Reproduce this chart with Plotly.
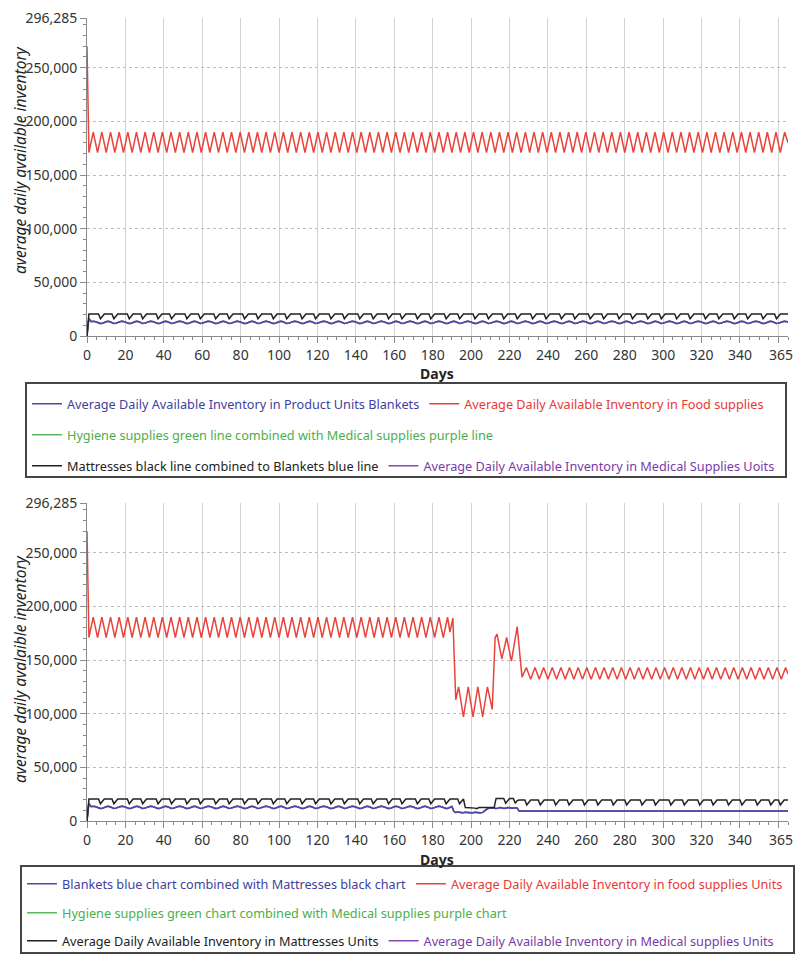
import plotly.graph_objects as go

# ---------------- axis ticks ----------------
Y_MAX = 296285
y_tick_vals = [0, 50000, 100000, 150000, 200000, 250000, 296285]
y_tick_text = ["0", "50,000", "100,000", "150,000", "200,000", "250,000", "296,285"]
x_tick_vals = [0, 20, 40, 60, 80, 100, 120, 140, 160, 180, 200, 220, 240, 260, 280, 300, 320, 340, 360]
x_tick_text = ["0", "20", "40", "60", "80", "100", "120", "140", "160", "180", "200", "220", "240", "260",
               "280", "300", "320", "340", ""]
X_END = 365
x_end_label = "365"

# ---------------- data (thousands of units) ----------------
# Food supplies: zig-zag vertices, half period of 2.25 days
ZIG = 2.25
food_top = [270,
    171, 190, 171, 190, 171, 190, 171, 190, 171, 190,
    171, 190, 171, 190, 171, 190, 171, 190, 171, 190,
    171, 190, 171, 190, 171, 190, 171, 190, 171, 190,
    171, 190, 171, 190, 171, 190, 171, 190, 171, 190,
    171, 190, 171, 190, 171, 190, 171, 190, 171, 190,
    171, 190, 171, 190, 171, 190, 171, 190, 171, 190,
    171, 190, 171, 190, 171, 190, 171, 190, 171, 190,
    171, 190, 171, 190, 171, 190, 171, 190, 171, 190,
    171, 190, 171, 190, 171, 190, 171, 190, 171, 190,
    171, 190, 171, 190, 171, 190, 171, 190, 171, 190,
    171, 190, 171, 190, 171, 190, 171, 190, 171, 190,
    171, 190, 171, 190, 171, 190, 171, 190, 171, 190,
    171, 190, 171, 190, 171, 190, 171, 190, 171, 190,
    171, 190, 171, 190, 171, 190, 171, 190, 171, 190,
    171, 190, 171, 190, 171, 190, 171, 190, 171, 190,
    171, 190, 171, 190, 171, 190, 171, 190, 171, 190,
    171, 190,
    180]
food_top_days = [0] + [1 + ZIG * k for k in range(len(food_top) - 2)] + [365]

food_bot_before = [270,
    171, 190, 171, 190, 171, 190, 171, 190, 171, 190,
    171, 190, 171, 190, 171, 190, 171, 190, 171, 190,
    171, 190, 171, 190, 171, 190, 171, 190, 171, 190,
    171, 190, 171, 190, 171, 190, 171, 190, 171, 190,
    171, 190, 171, 190, 171, 190, 171, 190, 171, 190,
    171, 190, 171, 190, 171, 190, 171, 190, 171, 190,
    171, 190, 171, 190, 171, 190, 171, 190, 171, 190,
    171, 190, 171, 190, 171, 190, 171, 190, 171, 190,
    171, 190, 171, 190]
food_bot_crisis_days = [189, 190.5, 192, 193.5, 196, 198.5, 201, 203.5, 206, 208.5, 211,
                        212.5, 213.5, 216, 218.5, 221, 224, 226.5]
food_bot_crisis = [176, 189, 113, 125, 97, 125, 97, 125, 97, 125, 104,
                   171, 174, 151, 171, 149, 181, 134]
food_bot_after = [
    143, 132, 143, 132, 143, 132, 143, 132, 143, 132,
    143, 132, 143, 132, 143, 132, 143, 132, 143, 132,
    143, 132, 143, 132, 143, 132, 143, 132, 143, 132,
    143, 132, 143, 132, 143, 132, 143, 132, 143, 132,
    143, 132, 143, 132, 143, 132, 143, 132, 143, 132,
    143, 132, 143, 132, 143, 132, 143, 132, 143, 132,
    143, 137]
food_bot_days = ([0] + [1 + ZIG * k for k in range(len(food_bot_before) - 1)]
                 + food_bot_crisis_days
                 + [228.75 + ZIG * j for j in range(len(food_bot_after) - 1)] + [365])
food_bot = food_bot_before + food_bot_crisis + food_bot_after

# Mattresses and blankets: daily values, days 0..365
mattresses_top = [
    0, 20.5, 20.5, 20.5, 20.5, 20.5, 20.5, 16, 18.5, 20.5, 20.5, 20.5, 20.5, 20.5, 16,
    18.5, 20.5, 20.5, 20.5, 20.5, 20.5, 20.5, 16, 18.5, 20.5, 20.5, 20.5, 20.5, 20.5, 16,
    18.5, 20.5, 20.5, 20.5, 20.5, 20.5, 20.5, 16, 18.5, 20.5, 20.5, 20.5, 20.5, 20.5, 16,
    18.5, 20.5, 20.5, 20.5, 20.5, 20.5, 20.5, 16, 18.5, 20.5, 20.5, 20.5, 20.5, 20.5, 16,
    18.5, 20.5, 20.5, 20.5, 20.5, 20.5, 20.5, 16, 18.5, 20.5, 20.5, 20.5, 20.5, 20.5, 16,
    18.5, 20.5, 20.5, 20.5, 20.5, 20.5, 20.5, 16, 18.5, 20.5, 20.5, 20.5, 20.5, 20.5, 16,
    18.5, 20.5, 20.5, 20.5, 20.5, 20.5, 20.5, 16, 18.5, 20.5, 20.5, 20.5, 20.5, 20.5, 16,
    18.5, 20.5, 20.5, 20.5, 20.5, 20.5, 20.5, 16, 18.5, 20.5, 20.5, 20.5, 20.5, 20.5, 16,
    18.5, 20.5, 20.5, 20.5, 20.5, 20.5, 20.5, 16, 18.5, 20.5, 20.5, 20.5, 20.5, 20.5, 16,
    18.5, 20.5, 20.5, 20.5, 20.5, 20.5, 20.5, 16, 18.5, 20.5, 20.5, 20.5, 20.5, 20.5, 16,
    18.5, 20.5, 20.5, 20.5, 20.5, 20.5, 20.5, 16, 18.5, 20.5, 20.5, 20.5, 20.5, 20.5, 16,
    18.5, 20.5, 20.5, 20.5, 20.5, 20.5, 20.5, 16, 18.5, 20.5, 20.5, 20.5, 20.5, 20.5, 16,
    18.5, 20.5, 20.5, 20.5, 20.5, 20.5, 20.5, 16, 18.5, 20.5, 20.5, 20.5, 20.5, 20.5, 16,
    18.5, 20.5, 20.5, 20.5, 20.5, 20.5, 20.5, 16, 18.5, 20.5, 20.5, 20.5, 20.5, 20.5, 16,
    18.5, 20.5, 20.5, 20.5, 20.5, 20.5, 20.5, 16, 18.5, 20.5, 20.5, 20.5, 20.5, 20.5, 16,
    18.5, 20.5, 20.5, 20.5, 20.5, 20.5, 20.5, 16, 18.5, 20.5, 20.5, 20.5, 20.5, 20.5, 16,
    18.5, 20.5, 20.5, 20.5, 20.5, 20.5, 20.5, 16, 18.5, 20.5, 20.5, 20.5, 20.5, 20.5, 16,
    18.5, 20.5, 20.5, 20.5, 20.5, 20.5, 20.5, 16, 18.5, 20.5, 20.5, 20.5, 20.5, 20.5, 16,
    18.5, 20.5, 20.5, 20.5, 20.5, 20.5, 20.5, 16, 18.5, 20.5, 20.5, 20.5, 20.5, 20.5, 16,
    18.5, 20.5, 20.5, 20.5, 20.5, 20.5, 20.5, 16, 18.5, 20.5, 20.5, 20.5, 20.5, 20.5, 16,
    18.5, 20.5, 20.5, 20.5, 20.5, 20.5, 20.5, 16, 18.5, 20.5, 20.5, 20.5, 20.5, 20.5, 16,
    18.5, 20.5, 20.5, 20.5, 20.5, 20.5, 20.5, 16, 18.5, 20.5, 20.5, 20.5, 20.5, 20.5, 16,
    18.5, 20.5, 20.5, 20.5, 20.5, 20.5, 20.5, 16, 18.5, 20.5, 20.5, 20.5, 20.5, 20.5, 16,
    18.5, 20.5, 20.5, 20.5, 20.5, 20.5, 20.5, 16, 18.5, 20.5, 20.5, 20.5, 20.5, 20.5, 16,
    18.5, 20.5, 20.5, 20.5, 20.5, 20.5]

blankets_top = [
    0, 16.5, 13.5, 13.8, 13.6, 13.0, 12.2, 11.6, 11.9, 12.7, 13.5, 13.8, 13.3, 12.5, 11.7,
    12.0, 12.6, 13.3, 13.8, 13.6, 13.0, 12.2, 11.6, 11.9, 12.7, 13.5, 13.8, 13.3, 12.5, 11.7,
    12.0, 12.6, 13.3, 13.8, 13.6, 13.0, 12.2, 11.6, 11.9, 12.7, 13.5, 13.8, 13.3, 12.5, 11.7,
    12.0, 12.6, 13.3, 13.8, 13.6, 13.0, 12.2, 11.6, 11.9, 12.7, 13.5, 13.8, 13.3, 12.5, 11.7,
    12.0, 12.6, 13.3, 13.8, 13.6, 13.0, 12.2, 11.6, 11.9, 12.7, 13.5, 13.8, 13.3, 12.5, 11.7,
    12.0, 12.6, 13.3, 13.8, 13.6, 13.0, 12.2, 11.6, 11.9, 12.7, 13.5, 13.8, 13.3, 12.5, 11.7,
    12.0, 12.6, 13.3, 13.8, 13.6, 13.0, 12.2, 11.6, 11.9, 12.7, 13.5, 13.8, 13.3, 12.5, 11.7,
    12.0, 12.6, 13.3, 13.8, 13.6, 13.0, 12.2, 11.6, 11.9, 12.7, 13.5, 13.8, 13.3, 12.5, 11.7,
    12.0, 12.6, 13.3, 13.8, 13.6, 13.0, 12.2, 11.6, 11.9, 12.7, 13.5, 13.8, 13.3, 12.5, 11.7,
    12.0, 12.6, 13.3, 13.8, 13.6, 13.0, 12.2, 11.6, 11.9, 12.7, 13.5, 13.8, 13.3, 12.5, 11.7,
    12.0, 12.6, 13.3, 13.8, 13.6, 13.0, 12.2, 11.6, 11.9, 12.7, 13.5, 13.8, 13.3, 12.5, 11.7,
    12.0, 12.6, 13.3, 13.8, 13.6, 13.0, 12.2, 11.6, 11.9, 12.7, 13.5, 13.8, 13.3, 12.5, 11.7,
    12.0, 12.6, 13.3, 13.8, 13.6, 13.0, 12.2, 11.6, 11.9, 12.7, 13.5, 13.8, 13.3, 12.5, 11.7,
    12.0, 12.6, 13.3, 13.8, 13.6, 13.0, 12.2, 11.6, 11.9, 12.7, 13.5, 13.8, 13.3, 12.5, 11.7,
    12.0, 12.6, 13.3, 13.8, 13.6, 13.0, 12.2, 11.6, 11.9, 12.7, 13.5, 13.8, 13.3, 12.5, 11.7,
    12.0, 12.6, 13.3, 13.8, 13.6, 13.0, 12.2, 11.6, 11.9, 12.7, 13.5, 13.8, 13.3, 12.5, 11.7,
    12.0, 12.6, 13.3, 13.8, 13.6, 13.0, 12.2, 11.6, 11.9, 12.7, 13.5, 13.8, 13.3, 12.5, 11.7,
    12.0, 12.6, 13.3, 13.8, 13.6, 13.0, 12.2, 11.6, 11.9, 12.7, 13.5, 13.8, 13.3, 12.5, 11.7,
    12.0, 12.6, 13.3, 13.8, 13.6, 13.0, 12.2, 11.6, 11.9, 12.7, 13.5, 13.8, 13.3, 12.5, 11.7,
    12.0, 12.6, 13.3, 13.8, 13.6, 13.0, 12.2, 11.6, 11.9, 12.7, 13.5, 13.8, 13.3, 12.5, 11.7,
    12.0, 12.6, 13.3, 13.8, 13.6, 13.0, 12.2, 11.6, 11.9, 12.7, 13.5, 13.8, 13.3, 12.5, 11.7,
    12.0, 12.6, 13.3, 13.8, 13.6, 13.0, 12.2, 11.6, 11.9, 12.7, 13.5, 13.8, 13.3, 12.5, 11.7,
    12.0, 12.6, 13.3, 13.8, 13.6, 13.0, 12.2, 11.6, 11.9, 12.7, 13.5, 13.8, 13.3, 12.5, 11.7,
    12.0, 12.6, 13.3, 13.8, 13.6, 13.0, 12.2, 11.6, 11.9, 12.7, 13.5, 13.8, 13.3, 12.5, 11.7,
    12.0, 12.6, 13.3, 13.8, 13.6, 13.0]

mattresses_bot = [
    0, 20.5, 20.5, 20.5, 20.5, 20.5, 20.5, 16, 18.5, 20.5, 20.5, 20.5, 20.5, 20.5, 16,
    18.5, 20.5, 20.5, 20.5, 20.5, 20.5, 20.5, 16, 18.5, 20.5, 20.5, 20.5, 20.5, 20.5, 16,
    18.5, 20.5, 20.5, 20.5, 20.5, 20.5, 20.5, 16, 18.5, 20.5, 20.5, 20.5, 20.5, 20.5, 16,
    18.5, 20.5, 20.5, 20.5, 20.5, 20.5, 20.5, 16, 18.5, 20.5, 20.5, 20.5, 20.5, 20.5, 16,
    18.5, 20.5, 20.5, 20.5, 20.5, 20.5, 20.5, 16, 18.5, 20.5, 20.5, 20.5, 20.5, 20.5, 16,
    18.5, 20.5, 20.5, 20.5, 20.5, 20.5, 20.5, 16, 18.5, 20.5, 20.5, 20.5, 20.5, 20.5, 16,
    18.5, 20.5, 20.5, 20.5, 20.5, 20.5, 20.5, 16, 18.5, 20.5, 20.5, 20.5, 20.5, 20.5, 16,
    18.5, 20.5, 20.5, 20.5, 20.5, 20.5, 20.5, 16, 18.5, 20.5, 20.5, 20.5, 20.5, 20.5, 16,
    18.5, 20.5, 20.5, 20.5, 20.5, 20.5, 20.5, 16, 18.5, 20.5, 20.5, 20.5, 20.5, 20.5, 16,
    18.5, 20.5, 20.5, 20.5, 20.5, 20.5, 20.5, 16, 18.5, 20.5, 20.5, 20.5, 20.5, 20.5, 16,
    18.5, 20.5, 20.5, 20.5, 20.5, 20.5, 20.5, 16, 18.5, 20.5, 20.5, 20.5, 20.5, 20.5, 16,
    18.5, 20.5, 20.5, 20.5, 20.5, 20.5, 20.5, 16, 18.5, 20.5, 20.5, 20.5, 20.5, 20.5, 16,
    18.5, 20.5, 20.5, 20.5, 20.5, 20.5, 20.5, 16, 18.5, 20.5, 20.5, 20.5, 20.5, 20.5, 16,
    18.5, 20.5, 12.5, 12.5, 12.5, 12.5, 12.5, 12.0, 11.5, 12.5, 12.5, 12.5, 12.5, 12.5, 12.5,
    12.5, 12.5, 12.5, 21, 21, 21, 21, 21, 16.5, 19, 21, 21, 21, 16.5, 19,
    19.5, 19.5, 19.5, 19.5, 15, 17.5, 19.5, 19.5, 19.5, 19.5, 19.5, 15, 17.5, 19.5, 19.5,
    19.5, 19.5, 19.5, 19.5, 15, 17.5, 19.5, 19.5, 19.5, 19.5, 19.5, 15, 17.5, 19.5, 19.5,
    19.5, 19.5, 19.5, 19.5, 15, 17.5, 19.5, 19.5, 19.5, 19.5, 19.5, 15, 17.5, 19.5, 19.5,
    19.5, 19.5, 19.5, 19.5, 15, 17.5, 19.5, 19.5, 19.5, 19.5, 19.5, 15, 17.5, 19.5, 19.5,
    19.5, 19.5, 19.5, 19.5, 15, 17.5, 19.5, 19.5, 19.5, 19.5, 19.5, 15, 17.5, 19.5, 19.5,
    19.5, 19.5, 19.5, 19.5, 15, 17.5, 19.5, 19.5, 19.5, 19.5, 19.5, 15, 17.5, 19.5, 19.5,
    19.5, 19.5, 19.5, 19.5, 15, 17.5, 19.5, 19.5, 19.5, 19.5, 19.5, 15, 17.5, 19.5, 19.5,
    19.5, 19.5, 19.5, 19.5, 15, 17.5, 19.5, 19.5, 19.5, 19.5, 19.5, 15, 17.5, 19.5, 19.5,
    19.5, 19.5, 19.5, 19.5, 15, 17.5, 19.5, 19.5, 19.5, 19.5, 19.5, 15, 17.5, 19.5, 19.5,
    19.5, 15, 17.5, 19.5, 19.5, 19.5]

blankets_bot = [
    0, 16.5, 13.5, 13.8, 13.6, 13.0, 12.2, 11.6, 11.9, 12.7, 13.5, 13.8, 13.3, 12.5, 11.7,
    12.0, 12.6, 13.3, 13.8, 13.6, 13.0, 12.2, 11.6, 11.9, 12.7, 13.5, 13.8, 13.3, 12.5, 11.7,
    12.0, 12.6, 13.3, 13.8, 13.6, 13.0, 12.2, 11.6, 11.9, 12.7, 13.5, 13.8, 13.3, 12.5, 11.7,
    12.0, 12.6, 13.3, 13.8, 13.6, 13.0, 12.2, 11.6, 11.9, 12.7, 13.5, 13.8, 13.3, 12.5, 11.7,
    12.0, 12.6, 13.3, 13.8, 13.6, 13.0, 12.2, 11.6, 11.9, 12.7, 13.5, 13.8, 13.3, 12.5, 11.7,
    12.0, 12.6, 13.3, 13.8, 13.6, 13.0, 12.2, 11.6, 11.9, 12.7, 13.5, 13.8, 13.3, 12.5, 11.7,
    12.0, 12.6, 13.3, 13.8, 13.6, 13.0, 12.2, 11.6, 11.9, 12.7, 13.5, 13.8, 13.3, 12.5, 11.7,
    12.0, 12.6, 13.3, 13.8, 13.6, 13.0, 12.2, 11.6, 11.9, 12.7, 13.5, 13.8, 13.3, 12.5, 11.7,
    12.0, 12.6, 13.3, 13.8, 13.6, 13.0, 12.2, 11.6, 11.9, 12.7, 13.5, 13.8, 13.3, 12.5, 11.7,
    12.0, 12.6, 13.3, 13.8, 13.6, 13.0, 12.2, 11.6, 11.9, 12.7, 13.5, 13.8, 13.3, 12.5, 11.7,
    12.0, 12.6, 13.3, 13.8, 13.6, 13.0, 12.2, 11.6, 11.9, 12.7, 13.5, 13.8, 13.3, 12.5, 11.7,
    12.0, 12.6, 13.3, 13.8, 13.6, 13.0, 12.2, 11.6, 11.9, 12.7, 13.5, 13.8, 13.3, 12.5, 11.7,
    12.0, 12.6, 13.3, 13.8, 13.6, 13.0, 12.2, 11.6, 11.9, 12.7, 13.5, 9.0, 8.0, 8.3, 8.0,
    7.6, 7.8, 8.2, 8.0, 7.6, 7.5, 7.8, 8.2, 8.0, 7.6, 7.6, 8.0, 9.5, 11.0, 11.8,
    12.0, 12.4, 12.0, 11.6, 12.0, 12.6, 12.2, 11.7, 11.9, 12.5, 12.3, 11.8, 12.0, 12.4, 12.0,
    9.3, 9.3, 9.3, 9.3, 9.3, 9.3, 9.3, 9.3, 9.3, 9.3, 9.3, 9.3, 9.3, 9.3, 9.3,
    9.3, 9.3, 9.3, 9.3, 9.3, 9.3, 9.3, 9.3, 9.3, 9.3, 9.3, 9.3, 9.3, 9.3, 9.3,
    9.3, 9.3, 9.3, 9.3, 9.3, 9.3, 9.3, 9.3, 9.3, 9.3, 9.3, 9.3, 9.3, 9.3, 9.3,
    9.3, 9.3, 9.3, 9.3, 9.3, 9.3, 9.3, 9.3, 9.3, 9.3, 9.3, 9.3, 9.3, 9.3, 9.3,
    9.3, 9.3, 9.3, 9.3, 9.3, 9.3, 9.3, 9.3, 9.3, 9.3, 9.3, 9.3, 9.3, 9.3, 9.3,
    9.3, 9.3, 9.3, 9.3, 9.3, 9.3, 9.3, 9.3, 9.3, 9.3, 9.3, 9.3, 9.3, 9.3, 9.3,
    9.3, 9.3, 9.3, 9.3, 9.3, 9.3, 9.3, 9.3, 9.3, 9.3, 9.3, 9.3, 9.3, 9.3, 9.3,
    9.3, 9.3, 9.3, 9.3, 9.3, 9.3, 9.3, 9.3, 9.3, 9.3, 9.3, 9.3, 9.3, 9.3, 9.3,
    9.3, 9.3, 9.3, 9.3, 9.3, 9.3, 9.3, 9.3, 9.3, 9.3, 9.3, 9.3, 9.3, 9.3, 9.3,
    9.3, 9.3, 9.3, 9.3, 9.3, 9.3]

# hygiene (green) and medical (purple) lines lie hidden under the blankets line
hygiene_top = blankets_top
medical_top = blankets_top
hygiene_bot = blankets_bot
medical_bot = blankets_bot

# ---------------- styling ----------------
BLUE, RED, GREEN, BLACK, PURPLE = "#4a4aa8", "#e8443c", "#5cb85c", "#222222", "#8a47b0"
T_BLUE, T_RED, T_GREEN, T_BLACK, T_PURPLE = "#3f3fa0", "#e53a35", "#4cae4c", "#222222", "#7b3aa8"
FONT = "Noto Sans"
LEG_SIZE = 12.7

top_names = {
    "blankets": "Average Daily Available Inventory in Product Units Blankets",
    "food": "Average Daily Available Inventory in Food supplies",
    "hygiene": "Hygiene supplies green line combined with Medical supplies purple line",
    "mattresses": "Mattresses black line combined to Blankets blue line",
    "medical": "Average Daily Available Inventory in Medical Supplies Uoits",
}
bot_names = {
    "blankets": "Blankets blue chart combined with Mattresses black chart",
    "food": "Average Daily Available Inventory in food supplies Units",
    "hygiene": "Hygiene supplies green chart combined with Medical supplies purple chart",
    "mattresses": "Average Daily Available Inventory in Mattresses Units",
    "medical": "Average Daily Available Inventory in Medical supplies Units",
}


def k(vals):
    return [v * 1000 for v in vals]


def colored(text, color):
    return "<span style='color:%s'>%s</span>" % (color, text)


fig = go.Figure()


def add_panel(xa, ya, names, food_days, food, matt, blank, hyg, med, legs):
    fig.add_trace(go.Scatter(x=list(range(len(hyg))), y=k(hyg), mode="lines", xaxis=xa, yaxis=ya,
                             line=dict(color=GREEN, width=1.5), name=colored(names["hygiene"], T_GREEN),
                             legend=legs[1], legendrank=1, hoverinfo="skip"))
    fig.add_trace(go.Scatter(x=list(range(len(med))), y=k(med), mode="lines", xaxis=xa, yaxis=ya,
                             line=dict(color=PURPLE, width=1.5), name=colored(names["medical"], T_PURPLE),
                             legend=legs[2], legendrank=2, hoverinfo="skip"))
    fig.add_trace(go.Scatter(x=list(range(len(blank))), y=k(blank), mode="lines", xaxis=xa, yaxis=ya,
                             line=dict(color=BLUE, width=1.5, shape="spline", smoothing=0.6),
                             name=colored(names["blankets"], T_BLUE),
                             legend=legs[0], legendrank=1, hoverinfo="skip"))
    fig.add_trace(go.Scatter(x=list(range(len(matt))), y=k(matt), mode="lines", xaxis=xa, yaxis=ya,
                             line=dict(color=BLACK, width=1.5), name=colored(names["mattresses"], T_BLACK),
                             legend=legs[2], legendrank=1, hoverinfo="skip"))
    fig.add_trace(go.Scatter(x=food_days, y=k(food), mode="lines", xaxis=xa, yaxis=ya,
                             line=dict(color=RED, width=1.5), name=colored(names["food"], T_RED),
                             legend=legs[0], legendrank=2, hoverinfo="skip"))


add_panel("x", "y", top_names, food_top_days, food_top, mattresses_top, blankets_top,
          hygiene_top, medical_top, ["legend", "legend2", "legend3"])
add_panel("x2", "y2", bot_names, food_bot_days, food_bot, mattresses_bot, blankets_bot,
          hygiene_bot, medical_bot, ["legend4", "legend5", "legend6"])

# the page body has an 8 px margin on every side: size the figure so the page fits the window
OFF = 8
W, H = 803 - 2 * OFF, 962 - 2 * OFF


def px(x):
    return (x - OFF) / W


def py(y):
    return 1 - (y - OFF) / H


X_DOM = [px(87), px(788)]
TOP_DOM = [py(336), py(18)]
BOT_DOM = [py(821), py(503)]

TICK_FONT = dict(family=FONT, size=14, color="#333")

xaxis_style = dict(range=[0, X_END], tickmode="array", tickvals=x_tick_vals, ticktext=x_tick_text,
                   automargin=False, ticklabeloverflow="allow",
                   showline=True, linecolor="#8a8a8a", linewidth=1, ticks="outside", ticklen=6,
                   tickcolor="#8a8a8a", tickfont=TICK_FONT,
                   showgrid=True, gridcolor="#d2d2d2", gridwidth=1, zeroline=False,
                   minor=dict(dtick=5, tick0=0, ticks="outside", ticklen=3, tickcolor="#8a8a8a", showgrid=False))
yaxis_style = dict(range=[0, Y_MAX], tickmode="array", tickvals=y_tick_vals, ticktext=y_tick_text,
                   automargin=False, ticklabeloverflow="allow",
                   showline=True, linecolor="#8a8a8a", linewidth=1, ticks="outside", ticklen=6,
                   tickcolor="#8a8a8a", tickfont=TICK_FONT,
                   showgrid=True, gridcolor="#bdbdbd", gridwidth=1, griddash="dot", zeroline=False,
                   minor=dict(dtick=10000, tick0=0, ticks="outside", ticklen=3, tickcolor="#8a8a8a", showgrid=False))


def leg(x, y):
    return dict(orientation="h", x=px(x), y=py(y), xanchor="left", yanchor="middle",
                xref="container", yref="container",
                bgcolor="rgba(0,0,0,0)", borderwidth=0, itemwidth=30, tracegroupgap=0,
                font=dict(family=FONT, size=LEG_SIZE, color="#222"))


def title_ann(text, y):
    return dict(text="<i>%s</i>" % text, x=px(20), y=py(y), xref="paper", yref="paper", showarrow=False,
                textangle=-90, xanchor="center", yanchor="middle",
                font=dict(family=FONT, size=15.5, color="#222"))


def days_ann(y):
    return dict(text="<b>Days</b>", x=px(437), y=py(y), xref="paper", yref="paper", showarrow=False,
                xanchor="center", yanchor="middle", font=dict(family=FONT, size=14, color="#222"))


def end_tick_ann(xref, yref):
    return dict(text=x_end_label, x=X_END, y=0, xref=xref, yref=yref, showarrow=False,
                xanchor="right", yanchor="top", xshift=7, yshift=-7, font=TICK_FONT)


fig.update_layout(
    width=W, height=H, margin=dict(l=0, r=0, t=0, b=0, autoexpand=False),
    paper_bgcolor="white", plot_bgcolor="white",
    xaxis=dict(domain=X_DOM, anchor="y", **xaxis_style),
    yaxis=dict(domain=TOP_DOM, anchor="x", **yaxis_style),
    xaxis2=dict(domain=X_DOM, anchor="y2", **xaxis_style),
    yaxis2=dict(domain=BOT_DOM, anchor="x2", **yaxis_style),
    legend=leg(27, 404), legend2=leg(27, 435), legend3=leg(27, 466),
    legend4=leg(22, 884), legend5=leg(22, 913), legend6=leg(22, 941),
    showlegend=True,
    shapes=[
        dict(type="rect", xref="paper", yref="paper", x0=px(26), x1=px(786), y0=py(477), y1=py(383),
             line=dict(color="#454545", width=2), fillcolor="rgba(0,0,0,0)"),
        dict(type="rect", xref="paper", yref="paper", x0=px(21), x1=px(794), y0=py(953), y1=py(866),
             line=dict(color="#454545", width=2), fillcolor="rgba(0,0,0,0)"),
    ],
    annotations=[
        days_ann(374),
        days_ann(859),
        title_ann("average daily available inventory", 160),
        title_ann("average daily avalaible inventory", 669),
        end_tick_ann("x", "y"),
        end_tick_ann("x2", "y2"),
    ],
)

fig.write_html("out.html")
